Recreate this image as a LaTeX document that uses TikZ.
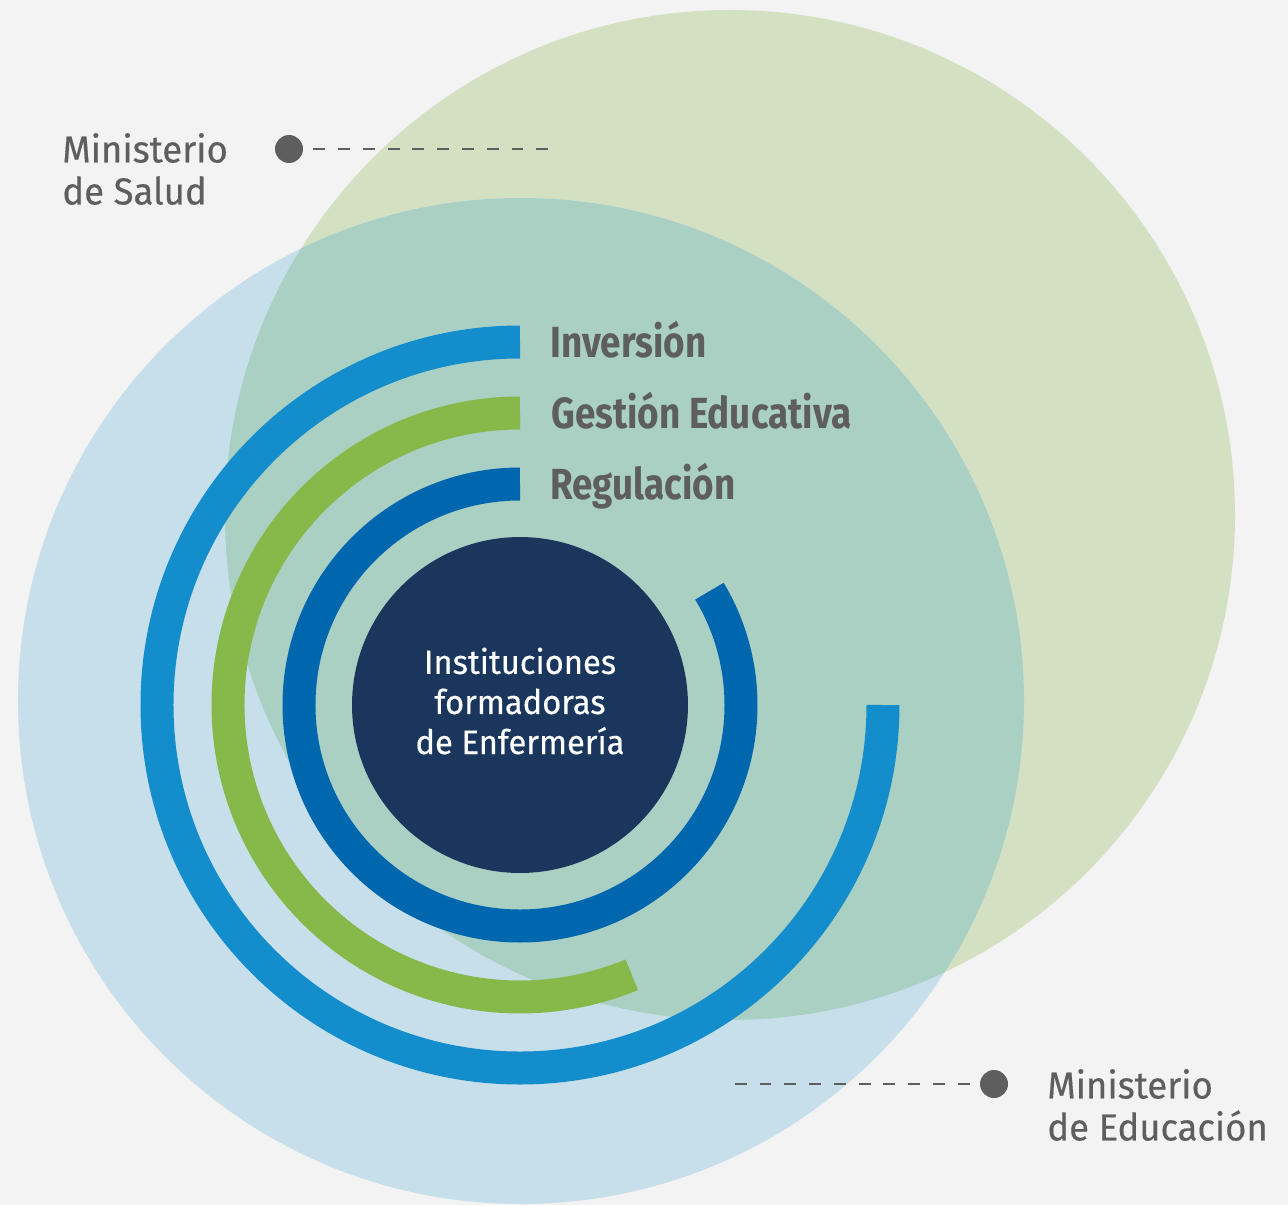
\documentclass[tikz,border=0pt]{standalone}
\usepackage{fontspec}
\setmainfont{Fira Sans}
\newfontfamily\bandfont[FakeStretch=0.845]{Fira Sans}
\newfontfamily\minfont[FakeBold=0.4,FakeStretch=0.97]{Fira Sans}
\usepackage{tikz}

\definecolor{bgGray}{HTML}{F3F3F3}
\definecolor{saludGreen}{HTML}{D3E1C2}
\definecolor{eduBlue}{HTML}{C7DFEB}
\definecolor{bothMix}{HTML}{AACFC3}
\definecolor{ringInv}{HTML}{148DCD}
\definecolor{ringGes}{HTML}{86B94A}
\definecolor{ringReg}{HTML}{0066AE}
\definecolor{coreNavy}{HTML}{1A365C}
\definecolor{textGray}{HTML}{5E5E5E}

\begin{document}
\begin{tikzpicture}[x=0.02cm,y=0.02cm,
  ring/.style={line width=0.66cm},
  bandlabel/.style={anchor=base west,inner sep=0pt,text=textGray,font=\bandfont\bfseries\fontsize{24.8}{28}\selectfont},
  minlabel/.style={anchor=west,align=left,inner sep=0pt,text=textGray,font=\minfont\fontsize{21.4}{23.9}\selectfont},
  dot/.style={circle,fill=textGray,inner sep=0pt,minimum size=0.56cm},
  leader/.style={textGray,line width=1.6pt,dash pattern=on 6.8pt off 7.3pt,shorten <=0.2cm}]
\useasboundingbox[fill=bgGray] (-520,-500) rectangle (768,705);
% the two ministries
\fill[saludGreen] (210,190) circle[radius=505];
\fill[eduBlue] (1,4) circle[radius=503];
\begin{scope}
\clip (210,190) circle[radius=505];
\fill[bothMix] (1,4) circle[radius=503];
\end{scope}
% rings
\draw[ring,ringInv] (90:363) arc[start angle=90,end angle=360,radius=363];
\draw[ring,ringGes] (90:292) arc[start angle=90,end angle=292.5,radius=292];
\draw[ring,ringReg] (90:221) arc[start angle=90,end angle=391,radius=221];
\node[circle,fill=coreNavy,minimum size=6.72cm,inner sep=0pt] (core) at (0,0) {};
\node[align=center,text=white,font=\minfont\fontsize{19.2}{22.8}\selectfont] (coretext) at (0,4) {Instituciones\\formadoras\\de Enfermería};
% labels
\node[bandlabel] (inv) at (30,348) {Inversión};
\node[bandlabel] (ges) at (31,277) {Gestión Educativa};
\node[bandlabel] (reg) at (30,206) {Regulación};
% Ministerio de Salud
\node[dot] (saluddot) at (-231,556) {};
\coordinate (saludend) at (30,556);
\draw[leader] (saluddot) -- (saludend);
\node[minlabel] (salud) at (-458,536) {Ministerio\\de Salud};
% Ministerio de Educacion
\node[dot] (edudot) at (474,-379) {};
\coordinate (eduend) at (215,-379);
\draw[leader] (edudot) -- (eduend);
\node[minlabel] (edu) at (527,-400) {Ministerio\\de Educación};
\end{tikzpicture}
\end{document}
